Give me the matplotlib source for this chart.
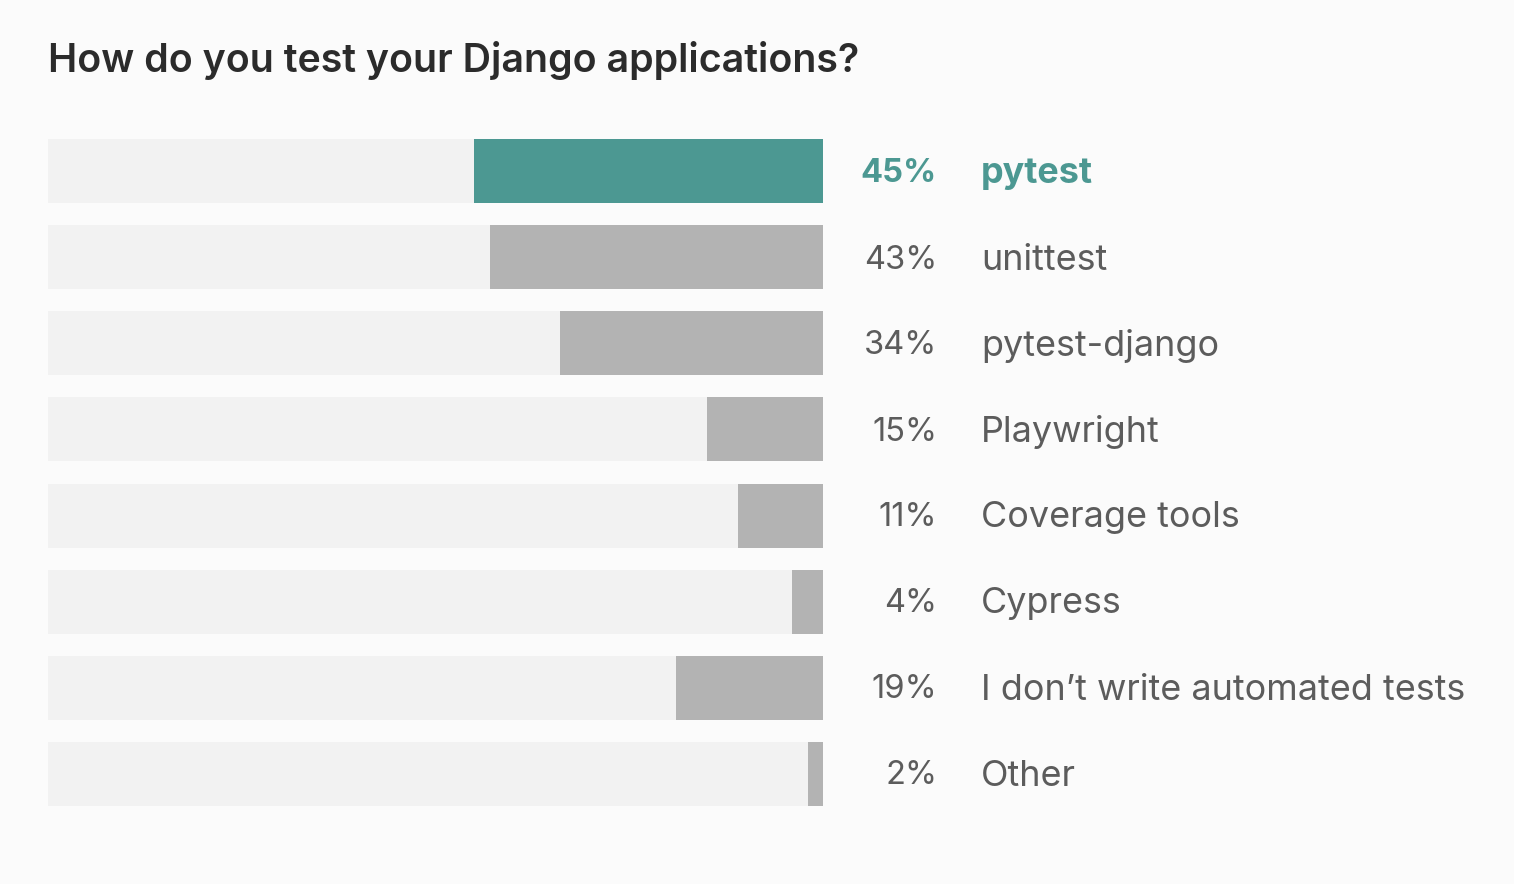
import matplotlib
matplotlib.use("Agg")
import matplotlib.pyplot as plt

categories = ["pytest", "unittest", "pytest-django", "Playwright", "Coverage tools",
              "Cypress", "I don\u2019t write automated tests", "Other"]
values = [45, 43, 34, 15, 11, 4, 19, 2]
highlight = "pytest"

W, H = 1514, 884
fig = plt.figure(figsize=(W / 100, H / 100), dpi=100)
fig.patch.set_facecolor("#fbfbfb")

def px(x, y):
    return x / W, 1 - y / H

left, right = 48, 823
top, bottom = 128, 817
ax = fig.add_axes([left / W, 1 - bottom / H, (right - left) / W, (bottom - top) / H])
ax.set_xlim(0, 100)
ax.set_ylim(len(categories) - 0.5, -0.5)
ax.axis("off")

teal = "#4c9892"
grey = "#b3b3b3"
bg = "#f2f2f2"
hbar = 64 / 86

ys = list(range(len(categories)))
ax.barh(ys, [100] * len(ys), left=0, height=hbar, color=bg, linewidth=0)
colors = [teal if c == highlight else grey for c in categories]
ax.barh(ys, values, left=[100 - v for v in values], height=hbar, color=colors, linewidth=0)

for i, (c, v) in enumerate(zip(categories, values)):
    yc = 174 + 86 * i
    is_h = c == highlight
    col = teal if is_h else "#5c5c5c"
    wt = "bold" if is_h else "normal"
    x0, y0 = px(937, yc)
    fig.text(x0, y0, f"{v}%", ha="right", va="center", fontsize=23.5, color=col,
             fontweight=wt, family="Inter")
    x1, y1 = px(981, yc)
    fig.text(x1, y1, c, ha="left", va="center", fontsize=25.9, color=col,
             fontweight=wt, family="Inter")

tx, ty = px(48, 61)
fig.text(tx, ty, "How do you test your Django applications?", ha="left", va="center",
         fontsize=28.3, color="#2b2b2b", fontweight="semibold", family="Inter")

fig.savefig("out.png", dpi=100, facecolor=fig.get_facecolor())
